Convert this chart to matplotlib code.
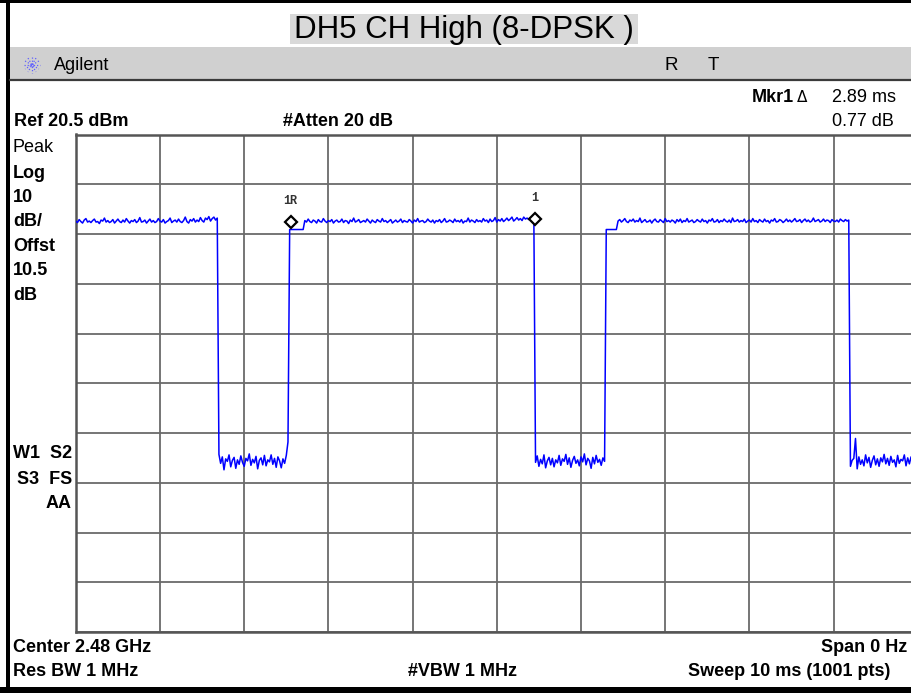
import numpy as np
import matplotlib
matplotlib.use("Agg")
import matplotlib.pyplot as plt
from matplotlib.patches import Rectangle

plt.rcParams['font.family'] = ['Liberation Sans', 'DejaVu Sans']

# ---- data (sweep 0..10 ms, 0.02 ms step, levels in dBm) ----
sweep_ms = 10.0
ref_level = 20.5
db_per_div = 10

high_1 = [3.1, 2.8, 3.4, 3.0, 2.7, 3.3, 3.6, 2.9, 3.1, 2.8,
          3.2, 3.5, 2.9, 3.0, 2.6, 3.3, 3.1, 3.7, 2.9, 3.2,
          2.8, 3.0, 3.4, 2.7, 3.1, 3.5, 3.0, 2.8, 3.3, 2.9,
          3.6, 3.1, 2.7, 3.2, 3.0, 3.4, 2.8, 3.1, 3.8, 2.9,
          3.0, 3.3, 2.7, 3.1, 3.5, 2.9, 3.2, 2.8, 3.0, 3.6,
          3.1, 2.9, 3.4, 2.7, 3.0, 3.2, 3.7, 2.8, 3.1, 3.3,
          2.9, 3.5, 3.0, 2.8, 3.2, 3.9, 3.0, 2.7, 3.4, 3.1,
          3.6, 2.9, 3.3, 3.0, 3.8, 3.2, 2.9, 3.7, 3.4, 4.0,
          3.1, 3.6, 3.9, 3.3, 3.7]
low_1 = [-43.8, -45.6, -44.3, -46.9, -44.7, -45.2, -43.9, -46.3, -45.0, -44.4,
         -46.6, -44.9, -45.8, -44.1, -45.4, -46.2, -44.6, -45.1, -43.7, -46.0,
         -44.8, -45.5, -44.2, -46.7, -45.0, -44.5, -45.9, -44.0, -46.1, -44.9,
         -45.3, -43.9, -45.8, -44.6, -46.4, -44.3, -45.1, -46.5, -44.7, -45.6,
         -44.0, -41.3]
step_1 = [1.4, 1.4, 1.4, 1.4, 1.4, 1.4, 1.4, 1.4, 1.4]
high_2 = [3.2, 2.9, 3.5, 3.0, 2.8, 3.3, 3.1, 2.7, 3.4, 3.0,
          2.9, 3.6, 3.1, 2.8, 3.2, 3.0, 3.4, 2.7, 3.1, 3.3,
          2.9, 3.0, 3.5, 2.8, 3.2, 3.1, 2.6, 3.3, 3.0, 3.7,
          2.9, 3.1, 3.4, 2.8, 3.0, 3.2, 2.9, 3.5, 3.1, 2.7,
          3.3, 3.0, 2.8, 3.4, 3.1, 2.9, 3.6, 3.0, 3.2, 2.8,
          3.1, 3.4, 2.7, 3.0, 3.3, 2.9, 3.1, 3.5, 2.8, 3.2,
          3.0, 2.9, 3.4, 3.1, 2.7, 3.3, 3.0, 3.6, 2.9, 3.1,
          3.2, 2.8, 3.0, 3.5, 3.1, 2.9, 3.3, 2.7, 3.2, 3.0,
          3.4, 2.8, 3.1, 3.6, 2.9, 3.0, 3.3, 3.1, 2.8, 3.5,
          3.0, 3.2, 2.9, 3.4, 2.7, 3.1, 3.0, 3.7, 2.9, 3.3,
          3.1, 2.8, 3.4, 3.0, 3.2, 2.9, 3.6, 3.1, 3.3, 2.8,
          3.5, 3.0, 3.2, 3.8, 2.9, 3.4, 3.1, 3.6, 3.0, 3.3,
          3.7, 3.2, 3.5, 3.9, 3.1, 3.4, 3.8, 3.3, 3.6, 3.2,
          3.9, 3.5, 3.7, 3.4, 3.8, 3.6, 3.6]
low_2 = [-45.4, -44.1, -46.2, -44.8, -45.7, -43.9, -46.5, -45.1, -44.4, -45.9,
         -44.6, -46.3, -44.9, -45.5, -44.0, -46.0, -44.7, -45.2, -43.8, -45.8,
         -44.5, -46.4, -45.0, -44.2, -45.6, -44.9, -46.1, -44.3, -45.3, -43.7,
         -45.9, -44.6, -45.1, -46.6, -44.4, -45.7, -44.0, -45.4, -44.8, -46.0,
         -44.5, -45.2]
step_2 = [1.4, 1.4, 1.4, 1.4, 1.4, 1.4, 1.4]
high_3 = [3.1, 3.4, 2.9, 3.2, 3.6, 3.0, 2.8, 3.3, 3.1, 3.5,
          2.9, 3.2, 3.0, 3.7, 2.8, 3.1, 3.4, 2.9, 3.0, 3.3,
          2.7, 3.2, 3.5, 3.0, 2.9, 3.4, 3.1, 2.8, 3.6, 3.0,
          3.2, 2.9, 3.3, 3.1, 2.7, 3.4, 3.0, 3.5, 2.8, 3.2,
          3.0, 3.6, 2.9, 3.1, 3.3, 2.8, 3.0, 3.4, 3.1, 2.9,
          3.5, 3.0, 3.2, 2.7, 3.3, 3.1, 3.6, 2.9, 3.0, 3.4,
          2.8, 3.2, 3.0, 3.5, 3.1, 2.9, 3.3, 2.8, 3.7, 3.0,
          3.1, 3.4, 2.9, 3.2, 3.0, 3.5, 2.8, 3.1, 3.3, 2.9,
          3.6, 3.0, 3.2, 2.8, 3.4, 3.1, 2.9, 3.5, 3.0, 3.2,
          2.7, 3.3, 3.1, 3.6, 2.9, 3.0, 3.4, 3.2, 2.8, 3.1,
          3.5, 3.0, 3.3, 2.9, 3.2, 3.6, 3.0, 3.1, 3.4, 2.8,
          3.2, 3.5, 3.0, 3.3, 2.9, 3.1, 3.7, 3.0, 3.2, 3.4,
          2.9, 3.1, 3.5, 3.0, 3.3, 3.2, 2.8, 3.4, 3.1, 3.0,
          3.3, 2.9, 3.5, 3.2, 3.0, 3.4, 3.1, 3.3]
low_3 = [-46.2, -45.0, -44.6, -40.6, -46.7, -44.3, -45.8, -44.9, -46.1, -43.9,
         -45.5, -44.4, -46.4, -45.0, -44.1, -45.9, -44.7, -46.2, -44.5, -45.3,
         -43.8, -45.7, -44.6, -46.0, -44.2, -45.4, -44.9, -46.3, -44.0, -45.6,
         -44.8, -45.1, -43.9, -46.1, -44.5, -45.7, -44.3, -45.2, -44.7, -45.9,
         -44.6]

trace = np.array(high_1 + low_1 + step_1 + high_2 + low_2 + step_2 + high_3 + low_3)
time_ms = np.linspace(0, sweep_ms, len(trace))

marker_1r = (2.55, 2.9)
marker_1 = (5.45, 3.6)

# ---- figure ----
W, H = 912, 693
fig = plt.figure(figsize=(W / 100, H / 100), dpi=100)
fig.patch.set_facecolor('white')

bg = fig.add_axes([0, 0, 1, 1])
bg.set_xlim(0, W)
bg.set_ylim(H, 0)
bg.axis('off')

# borders / bars
bg.add_patch(Rectangle((6, 0), 4, H, color='black', lw=0))
bg.add_patch(Rectangle((0, 0), W, 3, color='black', lw=0))
bg.add_patch(Rectangle((0, 687), W, 6, color='black', lw=0))
bg.add_patch(Rectangle((290, 14), 348, 30, color='#d9d9d9', lw=0))
bg.add_patch(Rectangle((10, 47), W - 10, 32, color='#d0d0d0', lw=0))
bg.plot([10, W], [79.5, 79.5], color='#3a3a3a', lw=1.6)

bg.text(464, 30, 'DH5 CH High (8-DPSK )', fontsize=22.5, ha='center', va='center')

# Agilent logo
cx, cy = 32, 65
for ang in np.arange(0, 180, 30):
    dx, dy = 8 * np.cos(np.radians(ang)), 8 * np.sin(np.radians(ang))
    bg.plot([cx - dx, cx + dx], [cy - dy, cy + dy], color='#6060ff', lw=0.9, ls=(0, (1, 1.5)))
bg.text(54, 65, 'Agilent', fontsize=13, ha='left', va='center')
bg.text(665, 65, 'R', fontsize=13.5, ha='left', va='center')
bg.text(708, 65, 'T', fontsize=13.5, ha='left', va='center')

bold = dict(fontsize=13, fontweight='bold', va='center')
reg = dict(fontsize=13, va='center')

bg.text(752, 97, 'Mkr1', ha='left', **bold)
bg.text(797, 98, 'Δ', ha='left', fontsize=11, va='center', family=['DejaVu Sans'])
bg.text(832, 97, '2.89 ms', ha='left', **reg)
bg.text(832, 121, '0.77 dB', ha='left', **reg)
bg.text(14, 122, 'Ref 20.5 dBm', ha='left', **bold)
bg.text(283, 122, '#Atten 20 dB', ha='left', **bold)

bg.text(13, 147, 'Peak', ha='left', **reg)
left_labels = ['Log', '10', 'dB/', 'Offst', '10.5', 'dB']
for i, s in enumerate(left_labels):
    bg.text(13, 173 + i * 24.4, s, ha='left', **bold)

bg.text(72, 453, 'W1  S2', ha='right', **bold)
bg.text(72, 479, 'S3  FS', ha='right', **bold)
bg.text(72, 504, 'AA', ha='right', **bold)

bg.text(13, 648, 'Center 2.48 GHz', ha='left', **bold)
bg.text(907, 648, 'Span 0 Hz', ha='right', **bold)
bg.text(13, 672, 'Res BW 1 MHz', ha='left', **bold)
bg.text(408, 672, '#VBW 1 MHz', ha='left', **bold)
bg.text(890, 672, 'Sweep 10 ms (1001 pts)', ha='right', **bold)

# ---- trace axes ----
left_px, right_px, top_px, bot_px = 75.8, 917.8, 134.5, 632.0
ax = fig.add_axes([left_px / W, 1 - bot_px / H, (right_px - left_px) / W, (bot_px - top_px) / H])
ax.set_facecolor('none')
ax.set_xlim(0, sweep_ms)
ax.set_ylim(ref_level - 10 * db_per_div, ref_level)
ax.set_xticks(np.arange(0, sweep_ms + 0.1, 1))
ax.set_yticks(np.arange(ref_level - 10 * db_per_div, ref_level + 0.1, db_per_div))
ax.tick_params(length=0, labelbottom=False, labelleft=False)
ax.grid(True, color='#6a6a6a', lw=1.3)
ax.set_axisbelow(True)
for sp in ax.spines.values():
    sp.set_color('#555555')
    sp.set_linewidth(1.8)

ax.plot(time_ms, trace, color='#0000ff', lw=1.1, zorder=3)
for (mx, my), lab in [(marker_1r, '1R'), (marker_1, '1')]:
    ax.plot([mx], [my], marker='D', ms=6.5, mfc='white', mec='black', mew=1.6, zorder=4)
    ax.annotate(lab, (mx, my), xytext=(0, 15), textcoords='offset points',
                ha='center', va='center', fontsize=8.5, fontweight='bold',
                family=['Liberation Mono'], color='#333333', zorder=5)

fig.savefig('out.png', dpi=100)
